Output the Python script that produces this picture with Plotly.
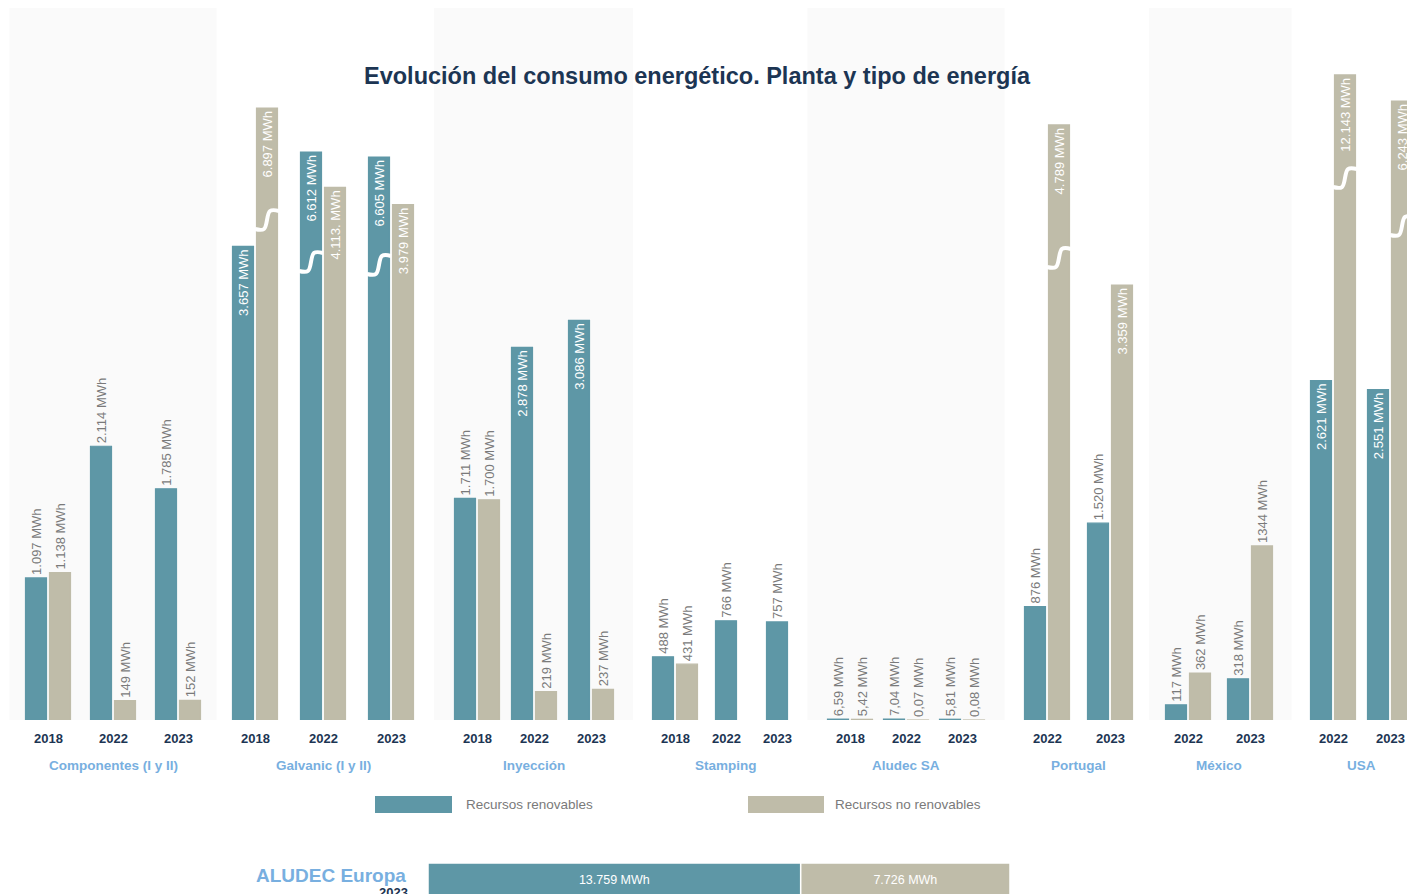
import plotly.graph_objects as go

# ---------------- DATA ----------------
TITLE = "Evolución del consumo energético. Planta y tipo de energía"
SERIES_NAMES = ["Recursos renovables", "Recursos no renovables"]

GROUPS = ["Componentes (I y II)", "Galvanic (I y II)", "Inyección", "Stamping",
          "Aludec SA", "Portugal", "México", "USA"]
YEARS = [[2018, 2022, 2023], [2018, 2022, 2023], [2018, 2022, 2023], [2018, 2022, 2023],
         [2018, 2022, 2023], [2022, 2023], [2022, 2023], [2022, 2023]]

RENEWABLE = [[1097, 2114, 1785], [3657, 6612, 6605], [1711, 2878, 3086], [488, 766, 757],
             [6.59, 7.04, 5.81], [876, 1520], [117, 318], [2621, 2551]]
NON_RENEWABLE = [[1138, 149, 152], [6897, 4113, 3979], [1700, 219, 237], [431, None, None],
                 [5.42, 0.07, 0.08], [4789, 3359], [362, 1344], [12143, 6243]]

RENEWABLE_LABELS = [["1.097 MWh", "2.114 MWh", "1.785 MWh"],
                    ["3.657 MWh", "6.612 MWh", "6.605 MWh"],
                    ["1.711 MWh", "2.878 MWh", "3.086 MWh"],
                    ["488 MWh", "766 MWh", "757 MWh"],
                    ["6,59 MWh", "7,04 MWh", "5,81 MWh"],
                    ["876 MWh", "1.520 MWh"],
                    ["117 MWh", "318 MWh"],
                    ["2.621 MWh", "2.551 MWh"]]
NON_RENEWABLE_LABELS = [["1.138 MWh", "149 MWh", "152 MWh"],
                        ["6.897 MWh", "4.113. MWh", "3.979 MWh"],
                        ["1.700 MWh", "219 MWh", "237 MWh"],
                        ["431 MWh", None, None],
                        ["5,42 MWh", "0,07 MWh", "0,08 MWh"],
                        ["4.789 MWh", "3.359 MWh"],
                        ["362 MWh", "1344 MWh"],
                        ["12.143 MWh", "6.243 MWh"]]

# Broken (truncated) bars: (group, year) -> (length drawn on the axis in MWh, break position in MWh)
BREAKS_RENEWABLE = {("Galvanic (I y II)", 2022): (4386, 3537),
                    ("Galvanic (I y II)", 2023): (4347, 3514)}
BREAKS_NON_RENEWABLE = {("Galvanic (I y II)", 2018): (4726, 3861),
                        ("Portugal", 2022): (4595, 3568),
                        ("USA", 2022): (4981, 4185),
                        ("USA", 2023): (4780, 3815)}

EUROPE_LABEL = "ALUDEC Europa"
EUROPE_YEAR = "2023"
EUROPE_VALUES = [13759, 7726]
EUROPE_LABELS = ["13.759 MWh", "7.726 MWh"]

# ---------------- LAYOUT / STYLE ----------------
W, H = 1407, 894
BASE_PX = 720            # baseline of the bars (pixels from top)
PX_PER_MWH = 0.1295
GROUP_FIRST = [48, 255, 477, 675, 850, 1047, 1188, 1333]
GROUP_PITCH = [65, 68, 57, 51, 56, 63, 62, 57]
BAR_W = 21
PAIR_OFF = 12
INSIDE_FROM = 2500

TEAL = "#5e97a6"
BEIGE = "#bfbca9"
NAVY = "#1c3553"
LIGHT_BLUE = "#78afe0"
GRAY_TXT = "#7a7a7a"
SHADE = "#fafafa"
FONT = "Liberation Sans, Arial, sans-serif"


def py(px):
    """pixel from top -> paper y"""
    return 1 - px / H


def px_x(px):
    return px / W


def label(**kw):
    d = dict(showarrow=False, xanchor="center", yanchor="middle")
    d.update(kw)
    return d


fig = go.Figure()

series = [
    (RENEWABLE, RENEWABLE_LABELS, BREAKS_RENEWABLE, TEAL, SERIES_NAMES[0]),
    (NON_RENEWABLE, NON_RENEWABLE_LABELS, BREAKS_NON_RENEWABLE, BEIGE, SERIES_NAMES[1]),
]

annotations = []
shapes = []
break_x, break_y = [], []
dy = 9 / PX_PER_MWH

centers = []
for gi, g in enumerate(GROUPS):
    cs = []
    for yi, yr in enumerate(YEARS[gi]):
        c = GROUP_FIRST[gi] + yi * GROUP_PITCH[gi]
        cs.append(c)
        annotations.append(label(x=c, y=py(738), xref="x", yref="paper", text=f"<b>{yr}</b>",
                                 font=dict(family=FONT, size=13, color=NAVY)))
    centers.append(cs)

for si, (vals, labels, breaks, color, name) in enumerate(series):
    xs, ys, texts, tpos = [], [], [], []
    for gi, g in enumerate(GROUPS):
        for yi, yr in enumerate(YEARS[gi]):
            v = vals[gi][yi]
            if v is None:
                continue
            c = centers[gi][yi]
            other = NON_RENEWABLE[gi][yi] if si == 0 else RENEWABLE[gi][yi]
            if other is None:
                x = c
            else:
                x = c - PAIR_OFF if si == 0 else c + PAIR_OFF
            drawn = v
            if (g, yr) in breaks:
                drawn, bpos = breaks[(g, yr)]
                xl, xr = x - BAR_W / 2 - 1.5, x + BAR_W / 2 + 1.5
                break_x += [xl, x - 3, x + 3, xr, None]
                break_y += [bpos - dy, bpos - dy, bpos + dy, bpos + dy, None]
            xs.append(x)
            ys.append(drawn)
            texts.append(labels[gi][yi])
            tpos.append("inside" if v >= INSIDE_FROM else "outside")
    fig.add_trace(go.Bar(
        x=xs, y=ys, width=BAR_W, name=name, text=texts, textposition=tpos,
        textangle=-90, insidetextanchor="end", constraintext="none", cliponaxis=False,
        insidetextfont=dict(family=FONT, size=13, color="white"),
        outsidetextfont=dict(family=FONT, size=13, color=GRAY_TXT),
        marker=dict(color=color, line=dict(color=color, width=1.2)),
        showlegend=False, hoverinfo="skip", xaxis="x", yaxis="y"))

# break marks
fig.add_trace(go.Scatter(x=break_x, y=break_y, mode="lines",
                         line=dict(color="white", width=4, shape="spline", smoothing=1.0),
                         showlegend=False, hoverinfo="skip", xaxis="x", yaxis="y"))

# group labels and alternating shading
bar_left, bar_right = [], []
for gi, g in enumerate(GROUPS):
    cs = centers[gi]
    left = cs[0] - PAIR_OFF - BAR_W / 2
    last_pair = NON_RENEWABLE[gi][-1] is not None
    right = cs[-1] + (PAIR_OFF if last_pair else 0) + BAR_W / 2
    bar_left.append(left)
    bar_right.append(right)
    annotations.append(label(x=(cs[0] + cs[-1]) / 2, y=py(765), xref="x", yref="paper",
                             text=f"<b>{g}</b>",
                             font=dict(family=FONT, size=13.5, color=LIGHT_BLUE)))
for gi in range(0, len(GROUPS), 2):
    x0 = bar_left[gi] - 16 if gi == 0 else (bar_right[gi - 1] + bar_left[gi]) / 2
    x1 = (bar_right[gi] + bar_left[gi + 1]) / 2 if gi + 1 < len(GROUPS) else bar_right[gi] + 16
    shapes.append(dict(type="rect", xref="x", yref="paper", x0=x0, x1=x1,
                       y0=py(BASE_PX), y1=py(8), fillcolor=SHADE, line=dict(width=0),
                       layer="below"))

# title
annotations.append(label(x=px_x(697), y=py(76), xref="paper", yref="paper",
                         text=f"<b>{TITLE}</b>",
                         font=dict(family=FONT, size=23.5, color=NAVY)))

# custom legend
for (x0, x1, tx), col, name in zip([(375, 452, 464), (748, 824, 833)], [TEAL, BEIGE], SERIES_NAMES):
    shapes.append(dict(type="rect", xref="paper", yref="paper", x0=px_x(x0), x1=px_x(x1),
                       y0=py(813), y1=py(796), fillcolor=col, line=dict(width=0)))
    annotations.append(label(x=px_x(tx), y=py(804), xref="paper", yref="paper", text=name,
                             xanchor="left",
                             font=dict(family=FONT, size=13.5, color=GRAY_TXT)))

# bottom stacked bar (ALUDEC Europa)
base = 0
for val, lab, col in zip(EUROPE_VALUES, EUROPE_LABELS, [TEAL, BEIGE]):
    fig.add_trace(go.Bar(x=[val], y=[0], base=[base], orientation="h", width=1,
                         text=[lab], textposition="inside", insidetextanchor="middle",
                         textangle=0, constraintext="none",
                         insidetextfont=dict(family=FONT, size=12.5, color="white"),
                         marker=dict(color=col, line=dict(color="white", width=1.5)),
                         showlegend=False, hoverinfo="skip", xaxis="x2", yaxis="y2"))
    base += val

annotations.append(label(x=px_x(408), y=py(875), xref="paper", yref="paper",
                         text=f"<b>{EUROPE_LABEL}</b>", xanchor="right",
                         font=dict(family=FONT, size=19, color=LIGHT_BLUE)))
annotations.append(label(x=px_x(410), y=py(883), xref="paper", yref="paper",
                         text=f"<b>{EUROPE_YEAR}</b>", xanchor="right", yanchor="top",
                         font=dict(family=FONT, size=13, color=NAVY)))

fig.update_layout(
    width=W, height=H, margin=dict(l=0, r=0, t=0, b=0),
    paper_bgcolor="white", plot_bgcolor="rgba(0,0,0,0)",
    barmode="overlay", showlegend=False,
    xaxis=dict(domain=[0, 1], range=[0, W], visible=False, fixedrange=True),
    yaxis=dict(domain=[py(BASE_PX), 1], range=[0, BASE_PX / PX_PER_MWH], visible=False,
               fixedrange=True),
    xaxis2=dict(domain=[px_x(428), px_x(1010)], range=[0, sum(EUROPE_VALUES)],
                visible=False, anchor="y2", fixedrange=True),
    yaxis2=dict(domain=[0, 31 / H], range=[-0.412, 0.5], visible=False, anchor="x2",
                fixedrange=True),
    annotations=annotations, shapes=shapes,
)

fig.write_html("out.html", config={"displayModeBar": False},
               post_script="document.body.style.margin='0';document.body.style.overflow='hidden';")
